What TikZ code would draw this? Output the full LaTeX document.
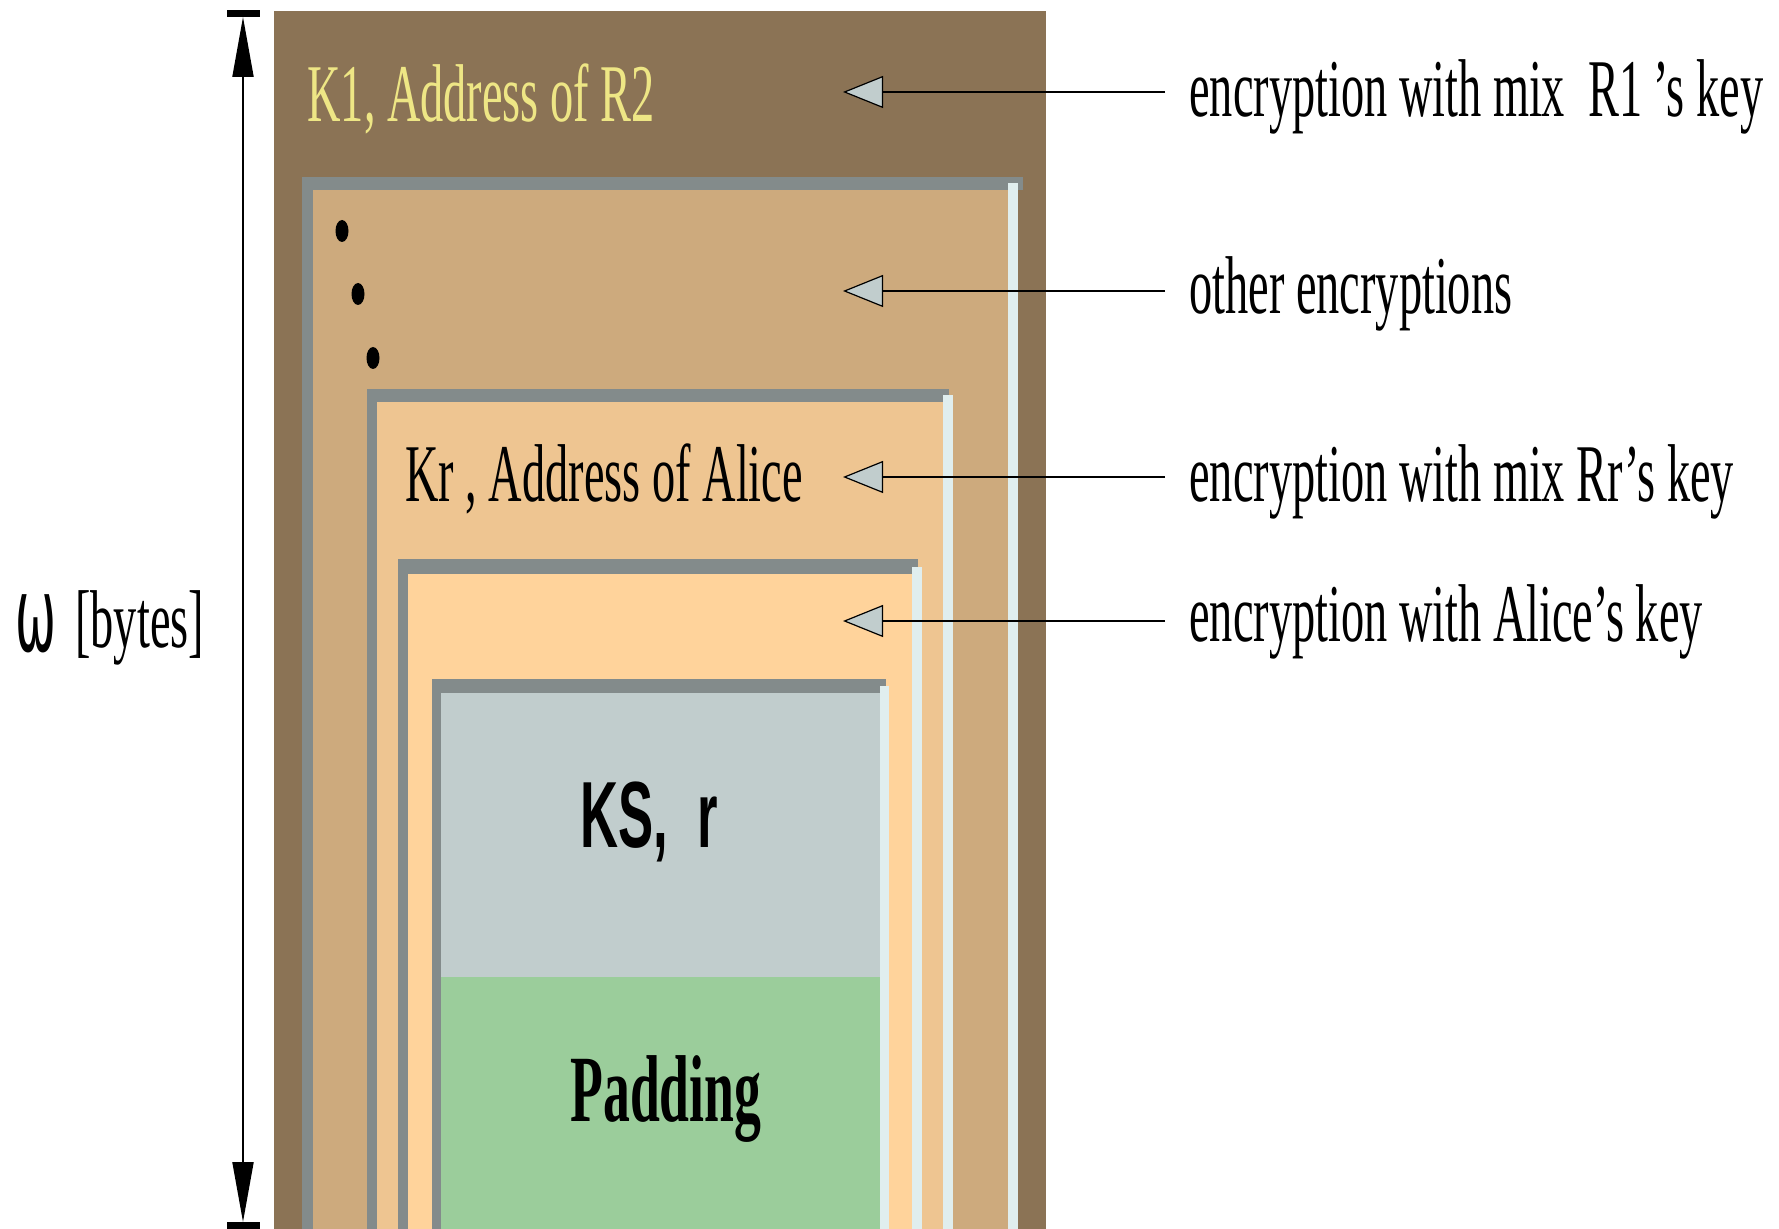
\documentclass[tikz,border=0pt]{standalone}
\usepackage{fontspec}
\setmainfont{Liberation Serif}
\newfontfamily\condserif[FakeStretch=0.565]{Liberation Serif}
\newfontfamily\condsans[FakeStretch=0.56]{Liberation Sans}
\newfontfamily\omegafont[FakeStretch=0.47]{DejaVu Sans}
\usetikzlibrary{arrows.meta}

% X11-style palette
\definecolor{burly4}{HTML}{8B7355}
\definecolor{burly3}{HTML}{CDAA7D}
\definecolor{burly2}{HTML}{EEC591}
\definecolor{burly1}{HTML}{FFD39B}
\definecolor{framegray}{HTML}{838B8B}
\definecolor{edgelight}{HTML}{E0EEEE}
\definecolor{keyblue}{HTML}{C1CDCD}
\definecolor{padgreen}{HTML}{9BCD9B}
\definecolor{khaki}{HTML}{EEE685}

\tikzset{
  txt/.style={anchor=base west, inner sep=0pt, font=\condserif\fontsize{41}{41}\selectfont},
  pointer/.style={draw=black, line width=1pt,
    -{Triangle[length=20pt,width=16pt,fill=keyblue,line width=0.6pt]}},
  dimarrow/.style={draw=black, line width=1pt,
    {Triangle[length=30pt,width=10.5pt]}-{Triangle[length=30pt,width=10.5pt]}},
  dimbar/.style={draw=black, line width=3.5pt},
}

\begin{document}
\begin{tikzpicture}[x=0.5pt,y=-0.5pt]
\useasboundingbox (0,0) rectangle (1779,1229);

% outermost layer
\fill[burly4] (274,11) rectangle (1046,1229);

% layer 1
\fill[framegray] (302,177) rectangle (1023,190);
\fill[framegray] (302,177) rectangle (313,1229);
\fill[burly3] (313,190) rectangle (1008,1229);
\fill[edgelight] (1008,183) rectangle (1018,1229);

% layer 2
\fill[framegray] (367,389) rectangle (949,402);
\fill[framegray] (367,389) rectangle (377,1229);
\fill[burly2] (377,402) rectangle (943,1229);
\fill[edgelight] (943,395) rectangle (953,1229);

% layer 3
\fill[framegray] (398,559) rectangle (918,574);
\fill[framegray] (398,559) rectangle (408,1229);
\fill[burly1] (408,574) rectangle (912,1229);
\fill[edgelight] (912,567) rectangle (922,1229);

% innermost layer: key part and padding
\fill[framegray] (432,679) rectangle (886,693);
\fill[framegray] (432,679) rectangle (441,1229);
\fill[keyblue] (441,693) rectangle (880,977);
\fill[padgreen] (441,977) rectangle (880,1229);
\fill[edgelight] (880,686) rectangle (889,1229);

% vertical dots
\fill[black] (342,231) ellipse [x radius=3.25pt, y radius=5.5pt];
\fill[black] (358,294) ellipse [x radius=3.25pt, y radius=5.5pt];
\fill[black] (373,358) ellipse [x radius=3.25pt, y radius=5.5pt];

% layer contents
\node[txt, text=khaki] (k1) at (307,122) {K1, Address of R2};
\node[txt] (kr) at (405,502) {Kr , Address of Alice};
\node[anchor=base west, inner sep=0pt, font=\condsans\bfseries\fontsize{47}{47}\selectfont] (ks) at (580,848) {KS,\ \ r};
\node[anchor=base west, inner sep=0pt, font=\condserif\bfseries\fontsize{47.5}{47.5}\selectfont] (pad) at (570,1121) {Padding};

% labels on the right
\node[txt] (l1) at (1189,117) {encryption with mix\ \ R1 ’s key};
\node[txt] (l2) at (1189,314) {other encryptions};
\node[txt] (l3) at (1189,502) {encryption with mix Rr’s key};
\node[txt] (l4) at (1189,642) {encryption with Alice’s key};

% pointer tips inside the layers
\coordinate (t1) at (843,92);
\coordinate (t2) at (843,291);
\coordinate (t3) at (843,477);
\coordinate (t4) at (843,621);
\draw[pointer] ([xshift=-12pt]t1 -| l1.west) -- (t1);
\draw[pointer] ([xshift=-12pt]t2 -| l2.west) -- (t2);
\draw[pointer] ([xshift=-12pt]t3 -| l3.west) -- (t3);
\draw[pointer] ([xshift=-12pt]t4 -| l4.west) -- (t4);

% overall size
\coordinate (dimtop) at (243,17);
\coordinate (dimbot) at (243,1222);
\draw[dimarrow] (dimtop) -- (dimbot);
\draw[dimbar] ([xshift=-8pt,yshift=1.75pt]dimtop) -- ([xshift=8.5pt,yshift=1.75pt]dimtop);
\draw[dimbar] ([xshift=-8pt,yshift=-1.75pt]dimbot) -- ([xshift=8.5pt,yshift=-1.75pt]dimbot);
\node[anchor=base west, inner sep=0pt, font=\omegafont\fontsize{52}{52}\selectfont] (om) at (15,652) {ω};
\node[txt] (bytes) at (75,648) {[bytes]};
\end{tikzpicture}
\end{document}
